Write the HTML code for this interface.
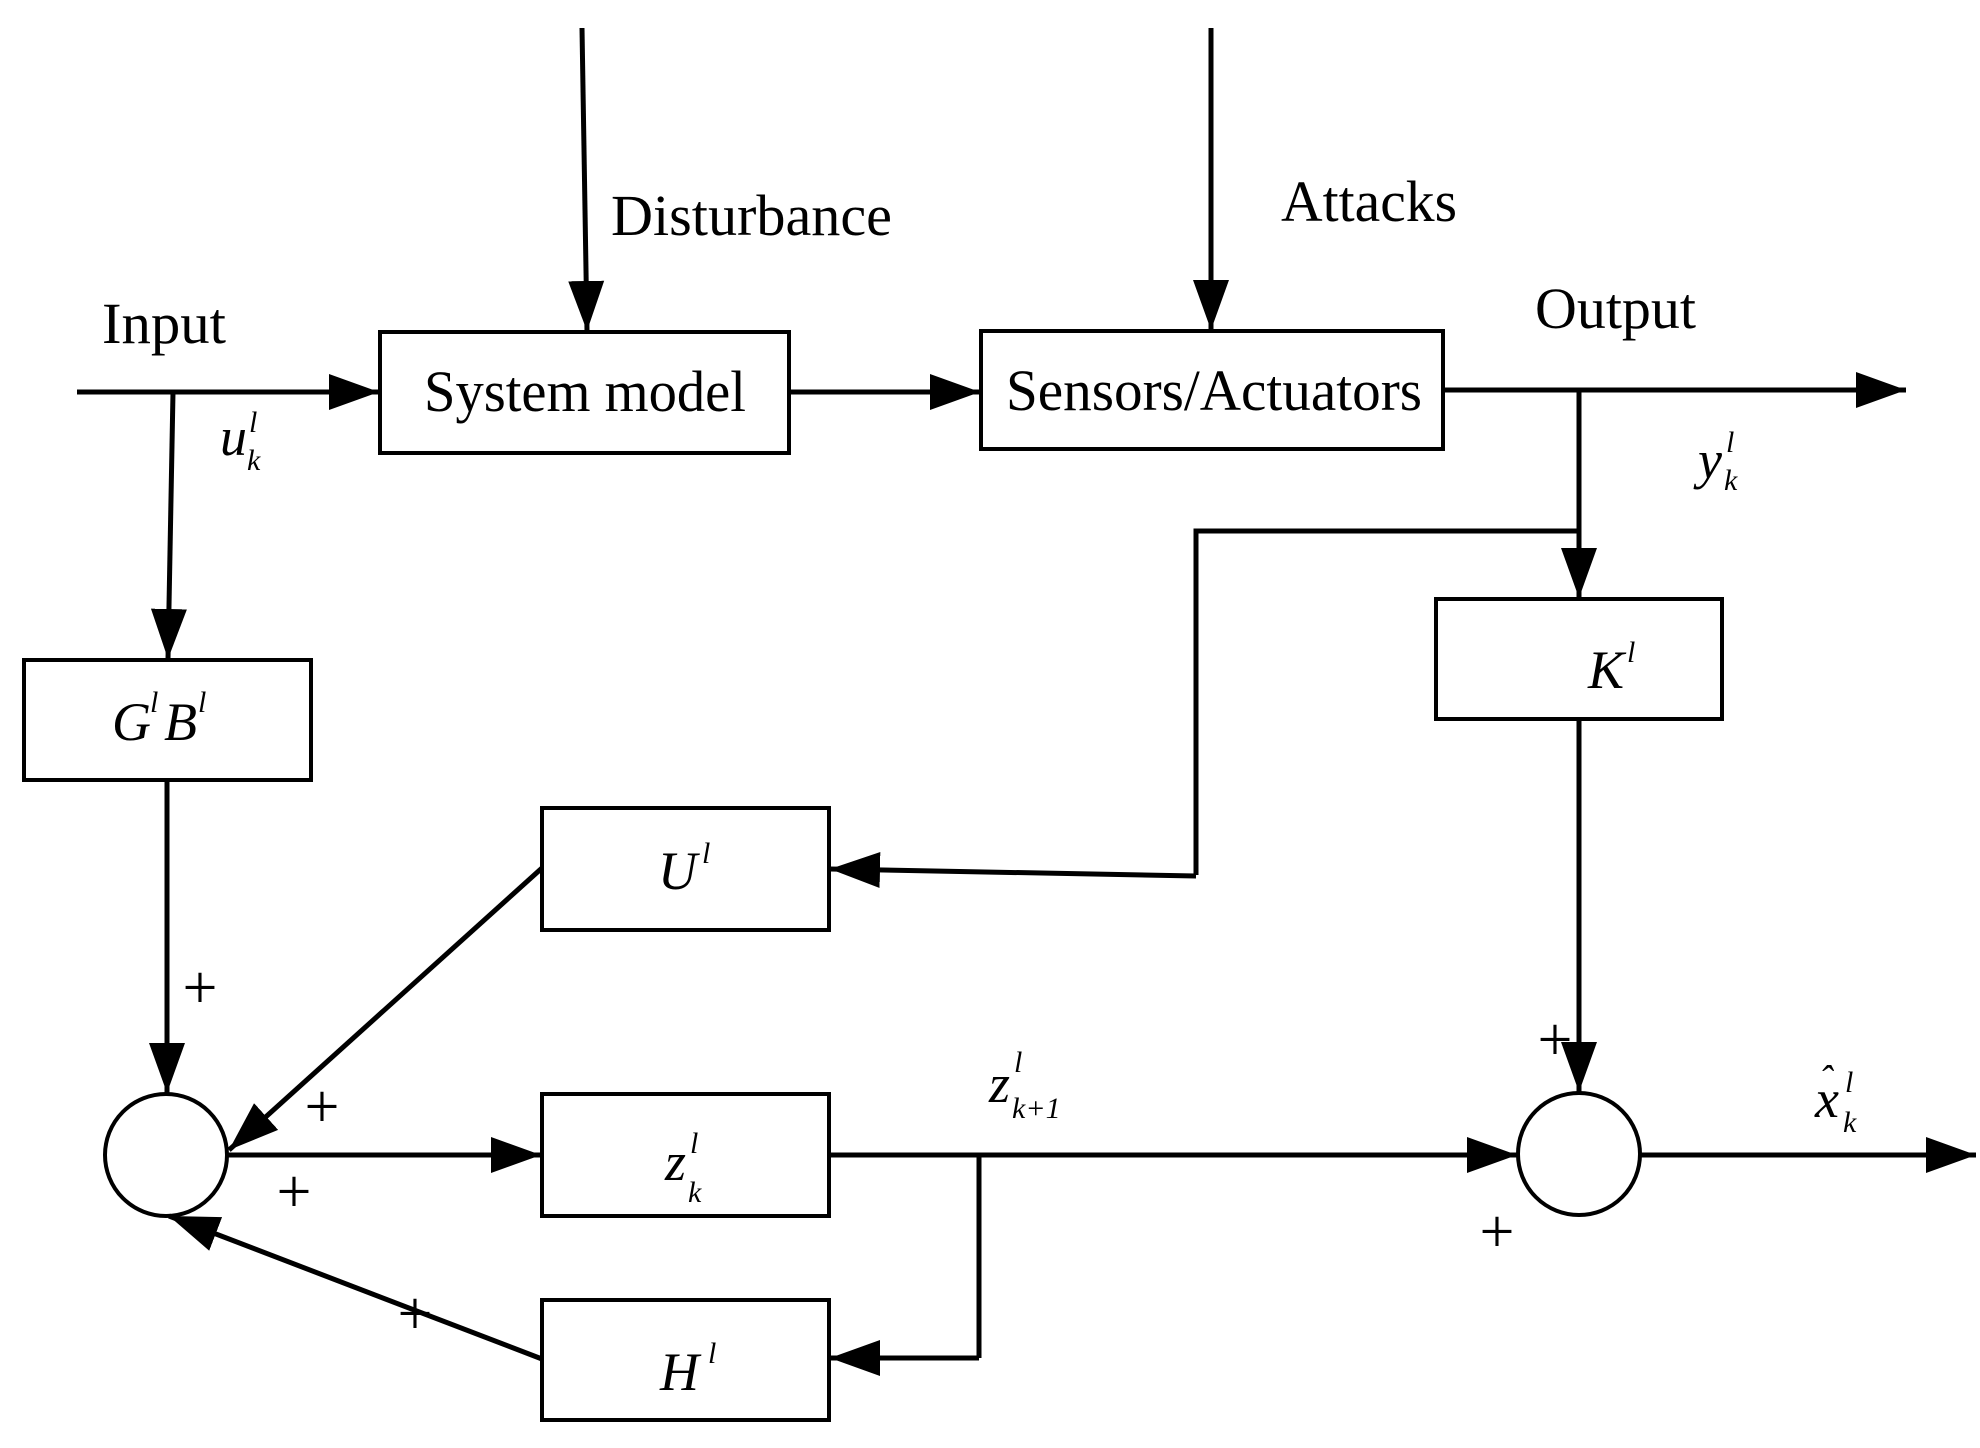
<!DOCTYPE html>
<html><head><meta charset="utf-8"><style>
html,body{margin:0;padding:0;background:#fff;}
svg{display:block;}
text{font-family:"Liberation Serif",serif;fill:#000;}
.i{font-style:italic;}
</style></head><body>
<svg width="1980" height="1448" viewBox="0 0 1980 1448" xmlns="http://www.w3.org/2000/svg">
<defs>
<marker id="a" markerUnits="userSpaceOnUse" markerWidth="52" markerHeight="40" refX="50" refY="20" orient="auto">
<path d="M0,2 L50,20 L0,38 Z" fill="#000"/>
</marker>
</defs>
<g stroke="#000" fill="none">
<g stroke-width="4">
<rect x="380" y="332" width="409" height="121"/>
<rect x="981" y="331" width="462" height="118"/>
<rect x="24" y="660" width="287" height="120"/>
<rect x="1436" y="599" width="286" height="120"/>
<rect x="542" y="808" width="287" height="122"/>
<rect x="542" y="1094" width="287" height="122"/>
<rect x="542" y="1300" width="287" height="120"/>
<ellipse cx="166" cy="1155" rx="61" ry="61"/>
<ellipse cx="1579" cy="1154" rx="61" ry="61"/>
</g>
<g stroke-width="5">
<line x1="582" y1="28" x2="587" y2="331" marker-end="url(#a)"/>
<line x1="1211" y1="28" x2="1211" y2="330" marker-end="url(#a)"/>
<line x1="77" y1="392" x2="379" y2="392" marker-end="url(#a)"/>
<line x1="789" y1="392" x2="980" y2="392" marker-end="url(#a)"/>
<line x1="1443" y1="390" x2="1906" y2="390" marker-end="url(#a)"/>
<line x1="173" y1="392" x2="168" y2="659" marker-end="url(#a)"/>
<line x1="1579" y1="390" x2="1579" y2="598" marker-end="url(#a)"/>
<polyline points="1579,531 1196,531 1196,875"/>
<line x1="1196" y1="876" x2="830" y2="869" marker-end="url(#a)"/>
<line x1="167" y1="780" x2="167" y2="1093" marker-end="url(#a)"/>
<line x1="542" y1="868" x2="229" y2="1150" marker-end="url(#a)"/>
<line x1="228" y1="1155" x2="541" y2="1155" marker-end="url(#a)"/>
<line x1="829" y1="1155" x2="1517" y2="1155" marker-end="url(#a)"/>
<polyline points="979,1155 979,1358"/>
<line x1="979" y1="1358" x2="830" y2="1358" marker-end="url(#a)"/>
<line x1="542" y1="1359" x2="169" y2="1216" marker-end="url(#a)"/>
<line x1="1579" y1="719" x2="1579" y2="1092" marker-end="url(#a)"/>
<line x1="1640" y1="1155" x2="1976" y2="1155" marker-end="url(#a)"/>
</g>
</g>
<g font-size="58">
<text x="102" y="343" textLength="124" lengthAdjust="spacingAndGlyphs">Input</text>
<text x="611" y="235" textLength="281" lengthAdjust="spacingAndGlyphs">Disturbance</text>
<text x="1281" y="221" textLength="176" lengthAdjust="spacingAndGlyphs">Attacks</text>
<text x="1535" y="328" textLength="161" lengthAdjust="spacingAndGlyphs">Output</text>
<text x="424" y="411" textLength="322" lengthAdjust="spacingAndGlyphs">System model</text>
<text x="1006" y="410" textLength="416" lengthAdjust="spacingAndGlyphs">Sensors/Actuators</text>
</g>
<g font-size="54" class="i">
<text x="220" y="455" class="i">u</text><text x="249" y="432" font-size="30" class="i">l</text><text x="247" y="470" font-size="30" class="i">k</text>
<text x="1698" y="478" class="i">y</text><text x="1726" y="452" font-size="30" class="i">l</text><text x="1724" y="490" font-size="30" class="i">k</text>
<text x="112" y="740" class="i">G</text><text x="150" y="712" font-size="30" class="i">l</text><text x="164" y="740" class="i">B</text><text x="198" y="712" font-size="30" class="i">l</text>
<text x="1588" y="688" class="i">K</text><text x="1627" y="662" font-size="30" class="i">l</text>
<text x="658" y="889" class="i">U</text><text x="702" y="863" font-size="30" class="i">l</text>
<text x="665" y="1180" class="i">z</text><text x="690" y="1153" font-size="30" class="i">l</text><text x="688" y="1202" font-size="30" class="i">k</text>
<text x="660" y="1390" class="i">H</text><text x="708" y="1363" font-size="30" class="i">l</text>
<text x="989" y="1102" class="i">z</text><text x="1014" y="1072" font-size="30" class="i">l</text><text x="1012" y="1118" font-size="30"><tspan class="i">k</tspan>+1</text>
<text x="1815" y="1117" class="i">x</text><text x="1819" y="1093" font-size="40">ˆ</text><text x="1845" y="1092" font-size="30" class="i">l</text><text x="1843" y="1132" font-size="30" class="i">k</text>
</g>
<g font-size="62" text-anchor="middle">
<text x="200" y="1008">+</text>
<text x="322" y="1127">+</text>
<text x="294" y="1212">+</text>
<text x="415" y="1334">+</text>
<text x="1555" y="1060">+</text>
<text x="1497" y="1252">+</text>
</g>
</svg>
</body></html>
